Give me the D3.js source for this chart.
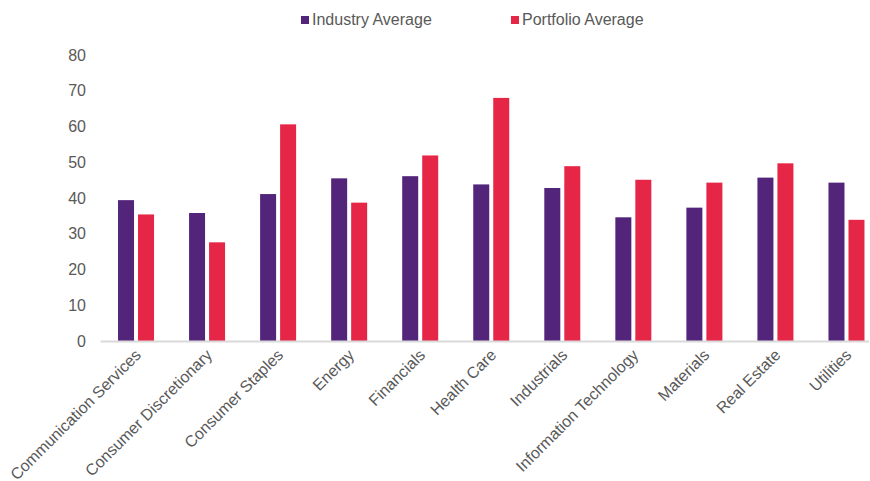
<!DOCTYPE html>
<html>
<head>
<meta charset="utf-8">
<script src="https://cdn.jsdelivr.net/npm/d3@7/dist/d3.min.js"></script>
<style>
html,body{margin:0;padding:0;background:#fff;}
text{font-family:"Liberation Sans",Arial,sans-serif;fill:#595959;}
</style>
</head>
<body>
<svg id="chart" width="870" height="481"></svg>
<script>
const categories = ["Communication Services","Consumer Discretionary","Consumer Staples","Energy","Financials","Health Care","Industrials","Information Technology","Materials","Real Estate","Utilities"];
const seriesNames = ["Industry Average","Portfolio Average"];
const industryAvg = [39.4,35.8,41.1,45.5,46.1,43.8,42.8,34.6,37.3,45.7,44.3];
const portfolioAvg = [35.4,27.6,60.6,38.7,51.9,68.0,48.9,45.1,44.3,49.7,33.9];
const yTicks = [0,10,20,30,40,50,60,70,80];
const colors = ["#52247a","#e52646"];

const svg = d3.select("#chart");
const x = d3.scaleBand().domain(categories).range([100.5, 882]).paddingInner(0).paddingOuter(0);
const y = d3.scaleLinear().domain([0,80]).range([341,55]);
const barW = 16, gap = 4;

// y labels
svg.append("g").selectAll("text").data(yTicks).join("text")
  .attr("x", 86).attr("y", d => y(d)).attr("dy","0.35em")
  .attr("text-anchor","end").style("font-size","16px").text(d => d);

// bars
const data = categories.map((c,i) => ({c, vals:[industryAvg[i], portfolioAvg[i]]}));
const g = svg.append("g");
data.forEach(d => {
  const cx = x(d.c) + x.bandwidth()/2;
  d.vals.forEach((v,j) => {
    const x0 = j === 0 ? cx - gap/2 - barW : cx + gap/2;
    g.append("rect").attr("x", x0).attr("y", y(v)).attr("width", barW)
      .attr("height", y(0) - y(v)).attr("fill", colors[j]);
  });
});

// axis line
svg.append("line").attr("x1",100.5).attr("x2",869).attr("y1",y(0)+0.5).attr("y2",y(0)+0.5)
  .attr("stroke","#d9d9d9").attr("stroke-width",2);

// x labels
svg.append("g").selectAll("text").data(categories).join("text")
  .attr("transform", d => `translate(${x(d)+x.bandwidth()/2+6},${356}) rotate(-45)`)
  .attr("text-anchor","end").style("font-size","16px").text(d => d);

// legend
const leg = [{x:301, name:seriesNames[0], c:colors[0]},{x:511, name:seriesNames[1], c:colors[1]}];
leg.forEach(l => {
  svg.append("rect").attr("x", l.x).attr("y", 16).attr("width", 8).attr("height", 8).attr("fill", l.c);
  svg.append("text").attr("x", l.x + 11).attr("y", 25).style("font-size","16px").text(l.name);
});
</script>
</body>
</html>
